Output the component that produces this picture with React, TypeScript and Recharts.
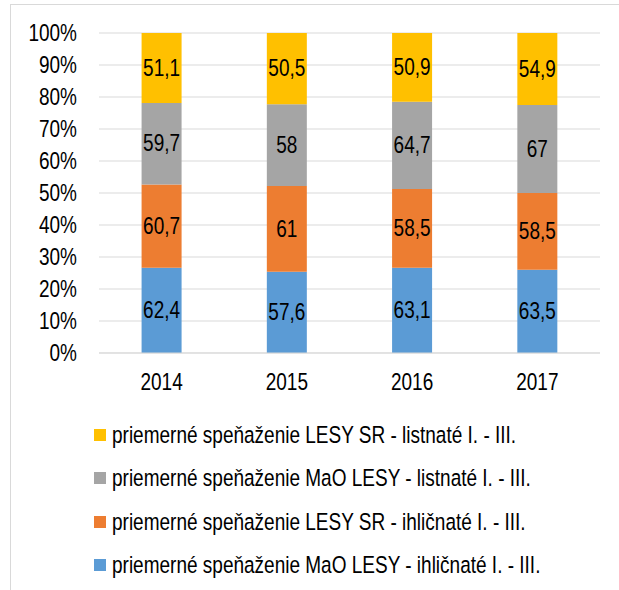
import { BarChart, Bar, XAxis, YAxis, CartesianGrid, LabelList } from "recharts";

const years = ["2014", "2015", "2016", "2017"];

// bottom to top in the stack
const maoIhlicnate = [62.4, 57.6, 63.1, 63.5];
const lesyIhlicnate = [60.7, 61, 58.5, 58.5];
const maoListnate = [59.7, 58, 64.7, 67];
const lesyListnate = [51.1, 50.5, 50.9, 54.9];

const yTicks = [0, 0.1, 0.2, 0.3, 0.4, 0.5, 0.6, 0.7, 0.8, 0.9, 1];

const SERIES = [
  { key: "maoIhl", name: "priemerné speňaženie MaO LESY - ihličnaté I. - III.", color: "#5B9BD5", values: maoIhlicnate },
  { key: "lesyIhl", name: "priemerné speňaženie LESY SR - ihličnaté I. - III.", color: "#ED7D31", values: lesyIhlicnate },
  { key: "maoList", name: "priemerné speňaženie MaO LESY - listnaté I. - III.", color: "#A5A5A5", values: maoListnate },
  { key: "lesyList", name: "priemerné speňaženie LESY SR - listnaté I. - III.", color: "#FFC000", values: lesyListnate },
];

const FONT = "'Liberation Sans', Arial, sans-serif";
const FS = 19;
// original text looks narrow / tall
const STRETCH = 1.25;

const chartData = years.map((year, i) => {
  const row: Record<string, string | number> = { year };
  SERIES.forEach((s) => {
    row[s.key] = s.values[i];
  });
  return row;
});

const fmt = (v: unknown) => String(v).replace(".", ",");

function TallText({ x, y, anchor, baseline, children }: any) {
  return (
    <text
      x={0}
      y={0}
      transform={`translate(${x},${y}) scale(1,${STRETCH})`}
      textAnchor={anchor}
      dominantBaseline={baseline}
      fill="#000"
      fontSize={FS}
      fontFamily={FONT}
    >
      {children}
    </text>
  );
}

const YTick = (props: any) => (
  <TallText x={props.x} y={props.y} anchor="end" baseline="central">
    {`${Math.round(props.payload.value * 100)}%`}
  </TallText>
);

const XTick = (props: any) => (
  <TallText x={props.x} y={props.y + 13} anchor="middle" baseline="central">
    {props.payload.value}
  </TallText>
);

const BarLabel = (props: any) => {
  const { x, y, width, height, value } = props;
  return (
    <TallText x={Number(x) + Number(width) / 2} y={Number(y) + Number(height) / 2} anchor="middle" baseline="central">
      {fmt(value)}
    </TallText>
  );
};

function LegendBox() {
  const rows = [...SERIES].reverse();
  return (
    <div style={{ position: "absolute", left: 94, top: 413, fontFamily: FONT, fontSize: FS, color: "#000" }}>
      {rows.map((s) => (
        <div key={s.key} style={{ display: "flex", alignItems: "center", height: 43.5, whiteSpace: "nowrap" }}>
          <span style={{ width: 12, height: 12, background: s.color, display: "inline-block", marginRight: 6 }} />
          <span style={{ display: "inline-block", transform: `scale(1,${STRETCH})` }}>{s.name}</span>
        </div>
      ))}
    </div>
  );
}

export default function App() {
  return (
    <div style={{ position: "absolute", left: 0, top: 0, width: 619, height: 590, background: "#fff", overflow: "hidden" }}>
      <div
        style={{
          position: "absolute",
          left: 10,
          top: 4,
          right: 0,
          bottom: 0,
          borderTop: "1px solid #d9d9d9",
          borderLeft: "1px solid #d9d9d9",
        }}
      />
      <BarChart
        width={619}
        height={590}
        data={chartData}
        stackOffset="expand"
        barCategoryGap="34%"
        margin={{ top: 33, right: 19, left: 0, bottom: 207 }}
        style={{ position: "absolute", left: 0, top: 0 }}
      >
        <CartesianGrid vertical={false} stroke="#d9d9d9" />
        <XAxis
          dataKey="year"
          axisLine={{ stroke: "#d9d9d9" }}
          tickLine={false}
          tickSize={0}
          tickMargin={16}
          tick={XTick}
        />
        <YAxis
          width={99}
          domain={[0, 1]}
          ticks={yTicks}
          interval={0}
          axisLine={false}
          tickLine={false}
          tickSize={0}
          tickMargin={22}
          tick={YTick}
        />
        {SERIES.map((s) => (
          <Bar key={s.key} dataKey={s.key} name={s.name} stackId="a" fill={s.color} isAnimationActive={false}>
            <LabelList dataKey={s.key} position="center" content={BarLabel} />
          </Bar>
        ))}
      </BarChart>
      <LegendBox />
    </div>
  );
}
